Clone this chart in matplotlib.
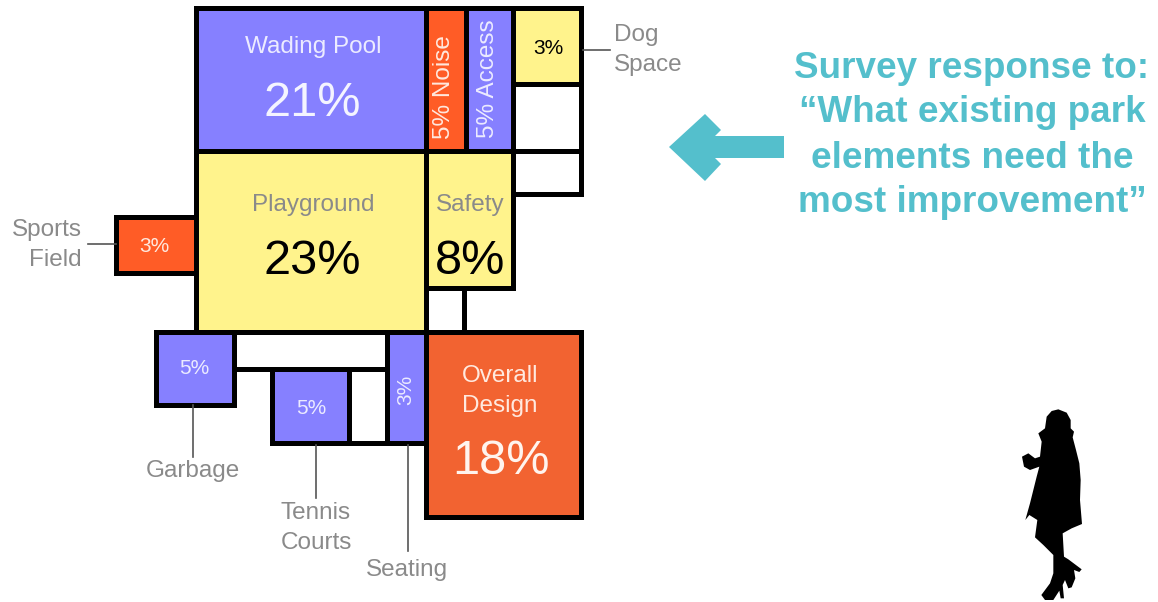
import matplotlib.pyplot as plt
from matplotlib.patches import Polygon, Rectangle

plt.rcParams["font.family"] = ["Liberation Sans", "DejaVu Sans"]

PURPLE = "#8680FF"
ORANGE = "#FF5C26"
DARK_ORANGE = "#F26331"
YELLOW = "#FFF38C"
TEAL = "#54BFCC"
GREY = "#8a8a8a"

# element, percent, fill, box as x0, y0, x1, y1 in image pixels
names = ["Wading Pool", "Noise", "Access", "Dog Space", "Playground", "Safety",
         "Sports Field", "Garbage", "Tennis Courts", "Seating", "Overall Design"]
percents = [21, 5, 5, 3, 23, 8, 3, 5, 5, 3, 18]
fills = [PURPLE, ORANGE, PURPLE, YELLOW, YELLOW, YELLOW,
         ORANGE, PURPLE, PURPLE, PURPLE, DARK_ORANGE]
boxes = [(196, 8, 426, 151), (426, 8, 466, 151), (466, 8, 513, 151), (513, 8, 581, 84),
         (196, 151, 426, 332), (426, 151, 513, 288), (116, 217, 196, 273),
         (156, 332, 234, 405), (272, 369, 349, 443), (387, 332, 426, 443),
         (426, 332, 581, 517)]

# empty cells of the mosaic
empty_boxes = [(513, 84, 581, 151), (513, 151, 581, 194), (426, 288, 464, 332),
               (234, 332, 387, 369), (349, 369, 387, 443)]

# leader lines
leaders = [((583, 50), (610, 50)), ((88, 244), (116, 244)), ((193, 405), (193, 457)),
           ((316, 445), (316, 498)), ((408, 445), (408, 551))]

# traced outlines
arrow = [(669, 147), (705, 114), (721, 130), (715, 136), (784, 136), (784, 158),
         (715, 158), (721, 164), (705, 181)]
person = [(175, 28), (200, 38), (212, 60), (212, 85), (222, 95), (218, 112), (228, 150),
          (238, 190), (242, 240), (240, 300), (246, 372), (215, 385), (188, 400), (192, 470),
          (205, 478), (245, 508), (238, 516), (222, 510), (226, 535), (215, 562), (205, 565),
          (195, 540), (188, 555), (192, 595), (182, 595), (178, 572), (160, 600), (135, 600),
          (124, 585), (150, 550), (160, 520), (160, 465), (130, 435), (105, 412), (112, 360),
          (88, 345), (76, 360), (90, 310), (110, 230), (118, 200), (90, 210), (72, 200),
          (66, 170), (85, 160), (105, 175), (120, 170), (125, 125), (115, 100), (135, 85),
          (140, 50), (155, 33)]

fig = plt.figure(figsize=(11.58, 6.02), dpi=100)
ax = fig.add_axes([0, 0, 1, 1])
ax.set_xlim(0, 1158)
ax.set_ylim(602, 0)
ax.axis("off")

for x0, y0, x1, y1 in empty_boxes:
    ax.add_patch(Rectangle((x0, y0), x1 - x0, y1 - y0, fc="white", ec="black", lw=3.6, joinstyle="miter"))
for (x0, y0, x1, y1), fill in zip(boxes, fills):
    ax.add_patch(Rectangle((x0, y0), x1 - x0, y1 - y0, fc=fill, ec="black", lw=3.6, joinstyle="miter"))

for a, b in leaders:
    ax.plot([a[0], b[0]], [a[1], b[1]], color="#555555", lw=1.2)


def pct(i):
    return f"{percents[i]}%"


def label(x, y, s, color, size, **kw):
    kw.setdefault("ha", "center")
    ax.text(x, y, s, color=color, fontsize=size, va="center", **kw)


label(313, 47, names[0], "#ECEBFF", 17.5)
label(312, 103, pct(0), "#F4F4FF", 35)
label(444, 87, f"{pct(1)} Noise", "#FFE9DF", 17.5, rotation=90)
label(488, 79, f"{pct(2)} Access", "#ECEBFF", 17.5, rotation=90)
label(548, 48, pct(3), "black", 15)
label(313, 205, names[4], GREY, 17.5)
label(312, 261, pct(4), "black", 35)
label(470, 205, names[5], GREY, 17.5)
label(470, 261, pct(5), "black", 35)
label(154, 246, pct(6), "#FFE9DF", 15)
label(194, 369, pct(7), "#ECEBFF", 15)
label(311, 409, pct(8), "#ECEBFF", 15)
label(406, 390, pct(9), "#ECEBFF", 15, rotation=90)
label(500, 391, "Overall\nDesign", "#FFE9DF", 17.5, linespacing=1.5)
label(501, 461, pct(10), "#FFF4EE", 35)

label(614, 50, "Dog\nSpace", GREY, 17.5, linespacing=1.45, ha="left")
label(47, 245, "Sports\nField", GREY, 17.5, linespacing=1.45, multialignment="right")
label(193, 471, names[7], GREY, 17.5)
label(316, 528, "Tennis\nCourts", GREY, 17.5, linespacing=1.45)
label(407, 570, names[9], GREY, 17.5)

ax.add_patch(Polygon(arrow, closed=True, fc=TEAL, ec="none"))
ax.add_patch(Polygon([(1000 + x / 3, 400 + y / 3) for x, y in person], closed=True, fc="black", ec="none"))

title_lines = ["Survey response to:", "\u201cWhat existing park", "elements need the", "most improvement\u201d"]
title_y = [69, 113, 159, 203]
for s, y in zip(title_lines, title_y):
    ax.text(972, y, s, color=TEAL, fontsize=26.6, fontweight="bold", ha="center", va="center")

fig.savefig("out.png", dpi=100)
